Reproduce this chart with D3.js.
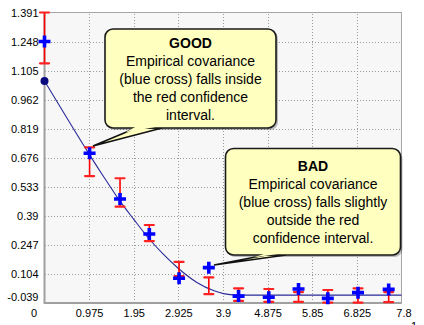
<!DOCTYPE html>
<html><head><meta charset="utf-8">
<script src="https://cdn.jsdelivr.net/npm/d3@7"></script>
<style>
html,body{margin:0;padding:0;background:#fff;overflow:hidden}
svg{display:block}
</style></head>
<body>
<svg id="chart" width="424" height="325"></svg>
<script>
// ---- data ----
const lags        = [0, 0.985, 1.65, 2.29, 2.94, 3.59, 4.24, 4.90, 5.55, 6.19, 6.85, 7.52];
const empirical   = [1.248, 0.698, 0.473, 0.301, 0.083, 0.135, -0.005, -0.011, 0.030, -0.016, 0.012, 0.028];
const ciUpper     = [1.391, 0.727, 0.575, 0.345, 0.163, 0.087, 0.033, 0.030, 0.015, 0.025, 0.033, 0.015];
const ciLower     = [1.141, 0.586, 0.435, 0.266, 0.094, 0.005, -0.029, -0.033, -0.033, -0.037, -0.037, -0.035];
const modelLags   = [0, 0.5, 0.975, 1.3, 1.61, 1.95, 2.27, 2.6, 2.92, 3.33, 3.69, 3.91, 4.2, 7.8];
const modelCov    = [1.054, 0.868, 0.694, 0.580, 0.475, 0.373, 0.281, 0.200, 0.132, 0.062, 0.022, 0.007, 0, 0];
const xTicks      = [0, 0.975, 1.95, 2.925, 3.9, 4.875, 5.85, 6.825, 7.8];
const xTickLabels = ["0", "0.975", "1.95", "2.925", "3.9", "4.875", "5.85", "6.825", "7.8"];
const yTicks      = [-0.039, 0.104, 0.247, 0.39, 0.533, 0.676, 0.819, 0.962, 1.105, 1.248, 1.391];
const yTickLabels = ["-0.039", "0.104", "0.247", "0.39", "0.533", "0.676", "0.819", "0.962", "1.105", "1.248", "1.391"];
const goodTitle = "GOOD";
const goodLines = ["Empirical covariance", "(blue cross) falls inside", "the red confidence", "interval."];
const badTitle  = "BAD";
const badLines  = ["Empirical covariance", "(blue cross) falls slightly", "outside the red", "confidence interval."];

// ---- layout ----
const L = 44.5, R = 401.5, T = 12.5, B = 303;
const svg = d3.select("#chart");
const x = d3.scaleLinear().domain([0, 7.8]).range([L, R]);
const y = d3.scaleLinear().domain([-0.039, 1.391]).range([B, T]);
const FONT = "'Liberation Sans', Arial, sans-serif";

svg.append("rect").attr("width", 424).attr("height", 325).attr("fill", "#fff");
svg.append("rect").attr("x", L).attr("y", T).attr("width", R - L).attr("height", B - T).attr("fill", "#f7f7f7");

// grid
const gx = svg.append("g").attr("transform", `translate(0,${B})`)
  .call(d3.axisBottom(x).tickValues(xTicks.slice(1, -1)).tickSize(-(B - T)).tickFormat(""));
const gy = svg.append("g").attr("transform", `translate(${L},0)`)
  .call(d3.axisLeft(y).tickValues(yTicks.slice(1, -1)).tickSize(-(R - L)).tickFormat(""));
[gx, gy].forEach(g => {
  g.select(".domain").remove();
  g.selectAll("line").attr("stroke", "#9a9a9a").attr("stroke-dasharray", "1,2").attr("shape-rendering", "crispEdges");
});

// border
svg.append("rect").attr("x", R - 0.5 - (R - L) + 0.5).attr("y", T).attr("width", R - L).attr("height", B - T)
  .attr("fill", "none").attr("stroke", "#a5a5a5").attr("stroke-width", 1);
svg.append("path").attr("d", `M${L},${T}V${B}H${R}`).attr("fill", "none").attr("stroke", "#a0a0a0").attr("stroke-width", 2);

// axes labels
const ax = svg.append("g").attr("transform", `translate(0,${B})`)
  .call(d3.axisBottom(x).tickValues(xTicks).tickSize(0).tickPadding(6).tickFormat((d, i) => xTickLabels[i]));
const ay = svg.append("g").attr("transform", `translate(${L},0)`)
  .call(d3.axisLeft(y).tickValues(yTicks).tickSize(0).tickPadding(6).tickFormat((d, i) => yTickLabels[i]));
[ax, ay].forEach(g => {
  g.select(".domain").remove();
  g.selectAll("text").attr("font-family", FONT).attr("font-size", 11).attr("fill", "#000");
});
ax.selectAll(".tick").filter(d => d === 0).select("text").attr("dx", -11);
ax.selectAll(".tick").filter(d => d === 7.8).select("text").attr("dx", 2);
ay.selectAll(".tick").filter(d => d === -0.039).select("text").attr("dy", "-0.22em");
svg.append("text").attr("x", 414).attr("y", 330).attr("text-anchor", "middle")
  .attr("font-family", FONT).attr("font-size", 11).text("1");

// model curve
const plot = svg.append("g");
plot.append("path")
  .datum(modelLags.map((l, i) => [l, modelCov[i]]))
  .attr("d", d3.line().x(d => x(d[0])).y(d => y(d[1])).curve(d3.curveMonotoneX))
  .attr("fill", "none").attr("stroke", "#2a2a9a").attr("stroke-width", 1.1);
plot.append("circle").attr("cx", x(modelLags[0])).attr("cy", y(modelCov[0])).attr("r", 4).attr("fill", "#0a0a80");

// error bars
const eb = plot.selectAll(".eb").data(lags).join("g").attr("class", "eb");
eb.append("line").attr("x1", d => x(d)).attr("x2", d => x(d))
  .attr("y1", (d, i) => y(ciUpper[i])).attr("y2", (d, i) => y(ciLower[i]))
  .attr("stroke", "#ff0000").attr("stroke-width", 1.6);
["u", "l"].forEach(k => {
  eb.append("line").attr("x1", d => x(d) - 4.5).attr("x2", d => x(d) + 4.5)
    .attr("y1", (d, i) => y(k === "u" ? ciUpper[i] : ciLower[i]))
    .attr("y2", (d, i) => y(k === "u" ? ciUpper[i] : ciLower[i]))
    .attr("stroke", "#ff2020").attr("stroke-width", 2.2).attr("stroke-linecap", "round");
});

// crosses
plot.selectAll(".cross").data(lags).join("path").attr("class", "cross")
  .attr("d", (d, i) => {
    const cx = x(d), cy = y(empirical[i]);
    return `M${cx - 6},${cy}H${cx + 6}M${cx},${cy - 6}V${cy + 6}`;
  })
  .attr("stroke", "#0000ff").attr("stroke-width", 3.6).attr("fill", "none");

// callouts
function callout(box, tail, title, lines, titleY) {
  const g = svg.append("g");
  const [bx, by, bw, bh] = box;
  // shadow
  g.append("rect").attr("x", bx + 2).attr("y", by + 2).attr("width", bw).attr("height", bh).attr("rx", 8)
    .attr("fill", "#000").attr("opacity", 0.25);
  // tail
  const [b1, b2, tip] = tail;
  g.append("path").attr("d", `M${b1[0]},${b1[1]}L${tip[0]},${tip[1]}L${b2[0]},${b2[1]}Z`)
    .attr("fill", "#ffffc0").attr("stroke", "#111").attr("stroke-width", 1.6).attr("stroke-linejoin", "miter");
  g.append("rect").attr("x", bx).attr("y", by).attr("width", bw).attr("height", bh).attr("rx", 8)
    .attr("fill", "#ffffc0").attr("stroke", "#1a1a1a").attr("stroke-width", 1.6);
  g.append("path").attr("d", `M${b1[0] + 1},${by + bh - 2}L${tip[0] + (b1[0] - tip[0]) * 0.75},${tip[1] + (b1[1] - tip[1]) * 0.75}L${b2[0] - 1},${by + bh - 2}Z`)
    .attr("fill", "#ffffc0");
  const cx = bx + bw / 2;
  g.append("text").attr("x", cx).attr("y", titleY).attr("text-anchor", "middle")
    .attr("font-family", FONT).attr("font-size", 14).attr("font-weight", "bold").text(title);
  g.selectAll(".ln").data(lines).join("text").attr("class", "ln")
    .attr("x", cx).attr("y", (d, i) => titleY + 18 * (i + 1)).attr("text-anchor", "middle")
    .attr("font-family", FONT).attr("font-size", 14).attr("fill", "#000").text(d => d);
}
callout([105, 29, 171, 99], [[136, 128], [162, 128], [93, 146]], goodTitle, goodLines, 47.5);
callout([225.5, 148.5, 175, 106.5], [[266, 255], [286, 255], [214, 265]], badTitle, badLines, 171);
</script>
</body></html>
